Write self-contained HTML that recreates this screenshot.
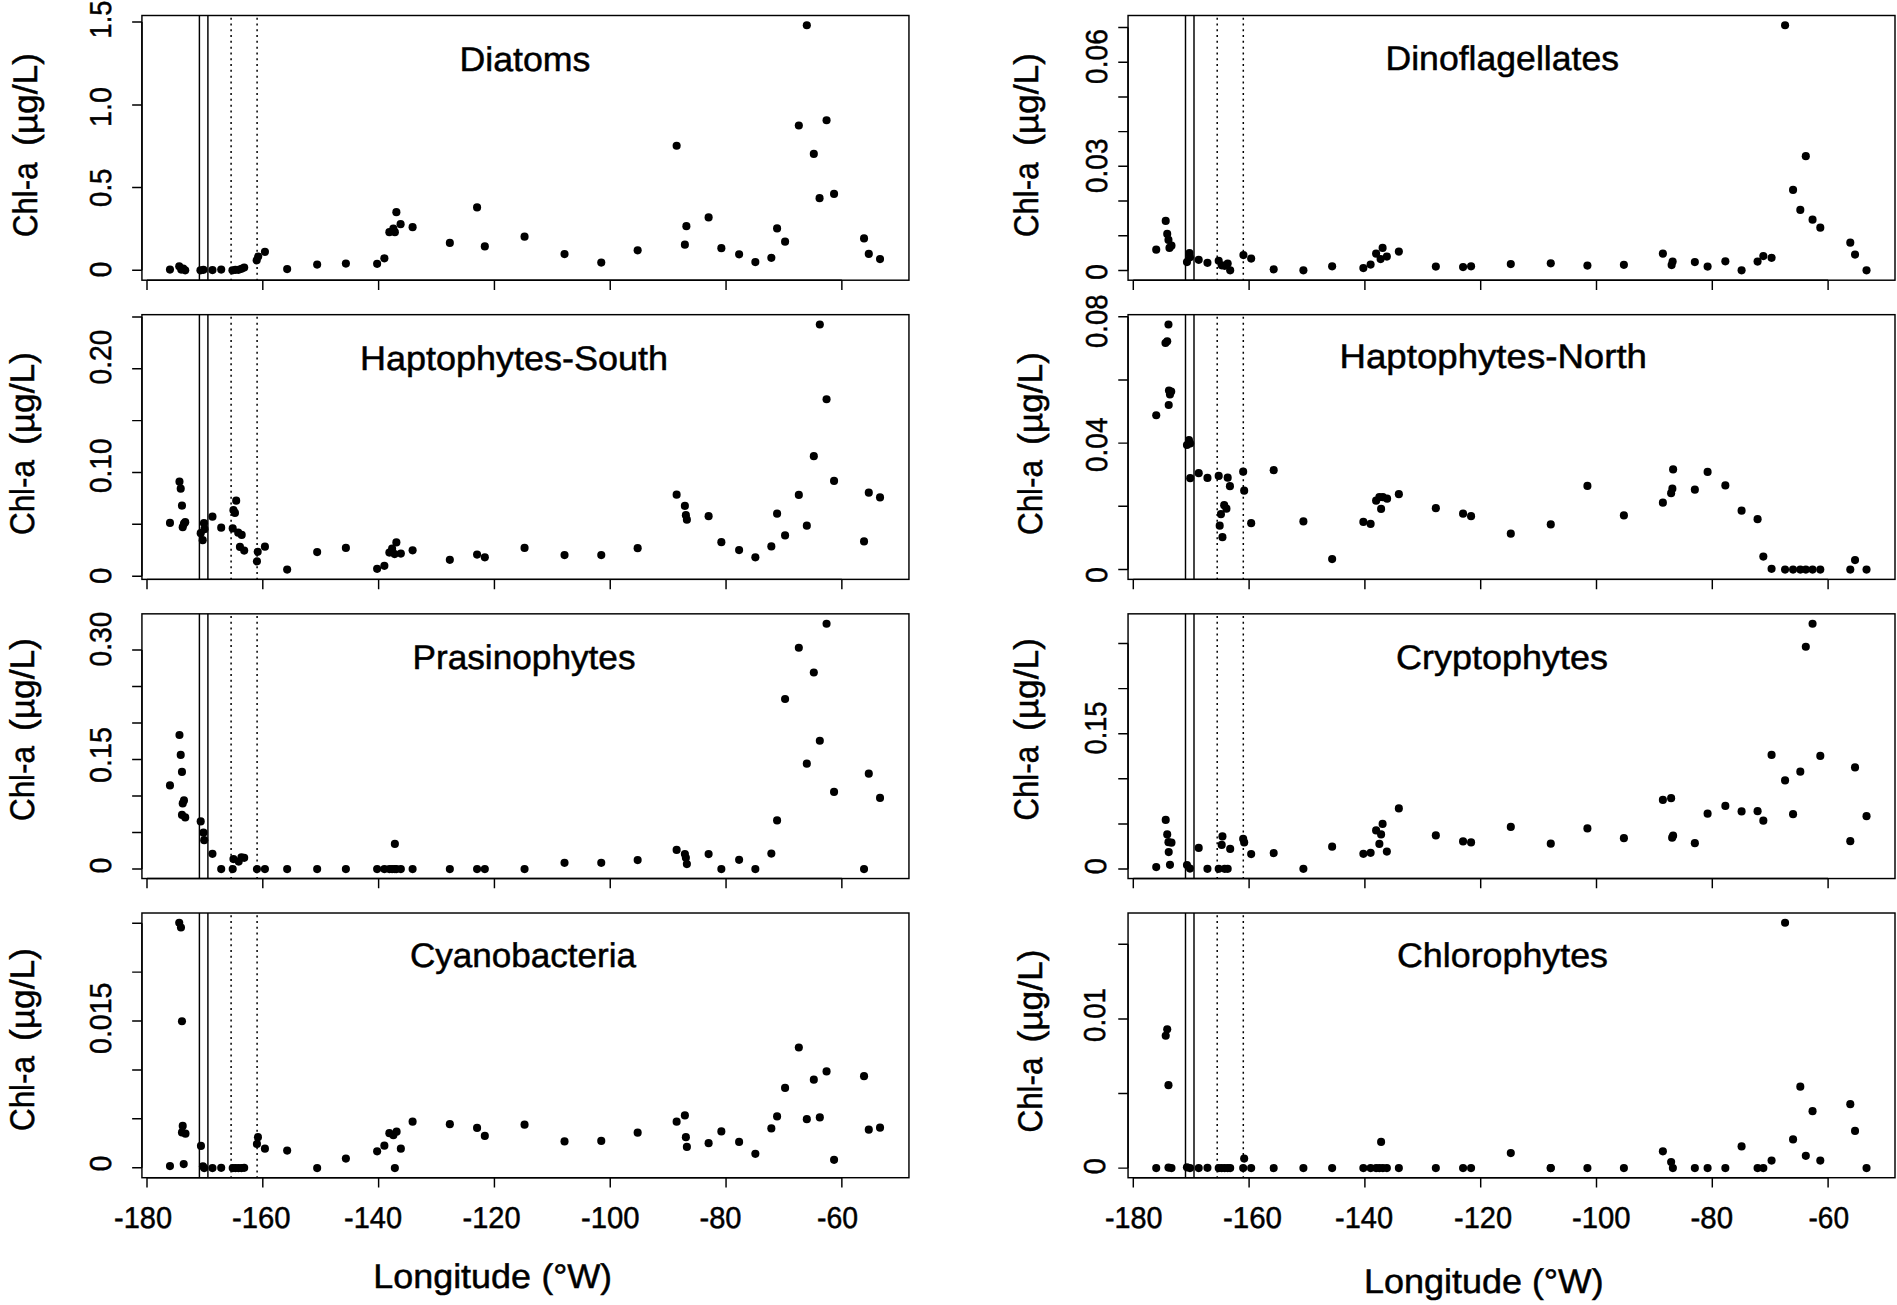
<!DOCTYPE html>
<html lang="en"><head><meta charset="utf-8"><title>Chl-a by longitude</title>
<style>html,body{margin:0;padding:0;background:#fff}body{width:1897px;height:1305px;overflow:hidden}svg{display:block}text{font-family:"Liberation Sans",sans-serif;fill:#000;stroke:#000;stroke-width:.5px;text-rendering:geometricPrecision}.b{fill:none;stroke:#000;stroke-width:1.45}.l{stroke:#000;stroke-width:1.45;fill:none}.d{stroke:#000;stroke-width:1.5;stroke-dasharray:2 3.8;fill:none}.p circle{fill:#000}</style></head><body>
<svg width="1897" height="1305" viewBox="0 0 1897 1305">
<rect width="1897" height="1305" fill="#fff"/>
<g>
<rect class="b" x="141.93" y="15.5" width="767.02" height="264.7"/>
<path class="l" d="M147 280.2v9.8M262.81 280.2v9.8M378.62 280.2v9.8M494.43 280.2v9.8M610.24 280.2v9.8M726.05 280.2v9.8M841.86 280.2v9.8M141.93 21.9h-9.8M141.93 104.9h-9.8M141.93 187.5h-9.8M141.93 270.2h-9.8M199.4 15.5V280.2M207.9 15.5V280.2M147 280.2H841.86M141.93 21.9V270.2"/>
<path class="d" d="M231.1 17.67V280.2M257.1 17.67V280.2"/>
<g class="p"><circle cx="169.98" cy="269.62" r="4.05"/><circle cx="179.23" cy="266.37" r="4.05"/><circle cx="181.22" cy="269.62" r="4.05"/><circle cx="183.22" cy="268.62" r="4.05"/><circle cx="185.22" cy="270.36" r="4.05"/><circle cx="200.46" cy="270.36" r="4.05"/><circle cx="203.46" cy="269.87" r="4.05"/><circle cx="212.46" cy="270.11" r="4.05"/><circle cx="221.2" cy="269.62" r="4.05"/><circle cx="232.45" cy="270.36" r="4.05"/><circle cx="235.45" cy="269.87" r="4.05"/><circle cx="238.45" cy="269.87" r="4.05"/><circle cx="241.44" cy="268.87" r="4.05"/><circle cx="244.19" cy="267.62" r="4.05"/><circle cx="256.69" cy="260.37" r="4.05"/><circle cx="258.19" cy="256.62" r="4.05"/><circle cx="264.93" cy="251.87" r="4.05"/><circle cx="287.17" cy="269.12" r="4.05"/><circle cx="317.16" cy="264.62" r="4.05"/><circle cx="345.89" cy="263.62" r="4.05"/><circle cx="377.13" cy="263.87" r="4.05"/><circle cx="384.37" cy="258.37" r="4.05"/><circle cx="389.37" cy="232.13" r="4.05"/><circle cx="393.37" cy="228.64" r="4.05"/><circle cx="394.87" cy="232.13" r="4.05"/><circle cx="396.37" cy="212.14" r="4.05"/><circle cx="400.61" cy="224.14" r="4.05"/><circle cx="412.61" cy="227.14" r="4.05"/><circle cx="449.84" cy="242.88" r="4.05"/><circle cx="477.08" cy="207.4" r="4.05"/><circle cx="484.82" cy="246.38" r="4.05"/><circle cx="524.55" cy="236.63" r="4.05"/><circle cx="564.53" cy="254.12" r="4.05"/><circle cx="601.26" cy="262.62" r="4.05"/><circle cx="637.66" cy="250.37" r="4.05"/><circle cx="676.64" cy="145.68" r="4.05"/><circle cx="686.38" cy="226.14" r="4.05"/><circle cx="684.88" cy="244.63" r="4.05"/><circle cx="708.62" cy="217.39" r="4.05"/><circle cx="721.36" cy="248.13" r="4.05"/><circle cx="739.11" cy="254.37" r="4.05"/><circle cx="755.35" cy="262.12" r="4.05"/><circle cx="771.34" cy="257.87" r="4.05"/><circle cx="777.09" cy="228.39" r="4.05"/><circle cx="785.08" cy="241.63" r="4.05"/><circle cx="798.83" cy="125.44" r="4.05"/><circle cx="806.82" cy="25.24" r="4.05"/><circle cx="813.82" cy="153.92" r="4.05"/><circle cx="819.57" cy="198.15" r="4.05"/><circle cx="826.56" cy="120.19" r="4.05"/><circle cx="834.06" cy="193.9" r="4.05"/><circle cx="864.04" cy="238.38" r="4.05"/><circle cx="868.79" cy="253.87" r="4.05"/><circle cx="880.03" cy="259.12" r="4.05"/></g>
</g>
<g>
<rect class="b" x="1128.05" y="15.5" width="766.95" height="264.7"/>
<path class="l" d="M1133.3 280.2v9.8M1249.1 280.2v9.8M1364.9 280.2v9.8M1480.7 280.2v9.8M1596.5 280.2v9.8M1712.3 280.2v9.8M1828.1 280.2v9.8M1128.05 27.5h-9.8M1128.05 62.2h-9.8M1128.05 96.9h-9.8M1128.05 131.6h-9.8M1128.05 166.3h-9.8M1128.05 201h-9.8M1128.05 235.7h-9.8M1128.05 270.4h-9.8M1185.5 15.5V280.2M1194 15.5V280.2M1133.3 280.2H1828.1M1128.05 27.5V270.4"/>
<path class="d" d="M1217.2 17.67V280.2M1243.3 17.67V280.2"/>
<g class="p"><circle cx="1156.23" cy="249.63" r="4.05"/><circle cx="1165.72" cy="220.89" r="4.05"/><circle cx="1167.22" cy="233.88" r="4.05"/><circle cx="1168.47" cy="239.88" r="4.05"/><circle cx="1169.47" cy="247.88" r="4.05"/><circle cx="1171.47" cy="245.63" r="4.05"/><circle cx="1186.96" cy="262.12" r="4.05"/><circle cx="1189.46" cy="253.12" r="4.05"/><circle cx="1189.96" cy="257.37" r="4.05"/><circle cx="1198.71" cy="259.87" r="4.05"/><circle cx="1207.45" cy="262.87" r="4.05"/><circle cx="1218.7" cy="260.87" r="4.05"/><circle cx="1221.69" cy="265.37" r="4.05"/><circle cx="1224.69" cy="265.87" r="4.05"/><circle cx="1227.69" cy="263.62" r="4.05"/><circle cx="1230.19" cy="270.36" r="4.05"/><circle cx="1243.43" cy="255.12" r="4.05"/><circle cx="1251.18" cy="258.62" r="4.05"/><circle cx="1273.67" cy="269.37" r="4.05"/><circle cx="1303.4" cy="270.36" r="4.05"/><circle cx="1332.14" cy="266.37" r="4.05"/><circle cx="1363.37" cy="268.12" r="4.05"/><circle cx="1370.62" cy="264.62" r="4.05"/><circle cx="1376.12" cy="253.62" r="4.05"/><circle cx="1380.61" cy="259.12" r="4.05"/><circle cx="1382.61" cy="247.88" r="4.05"/><circle cx="1386.86" cy="256.62" r="4.05"/><circle cx="1398.86" cy="251.62" r="4.05"/><circle cx="1435.84" cy="266.62" r="4.05"/><circle cx="1463.07" cy="267.12" r="4.05"/><circle cx="1471.07" cy="266.37" r="4.05"/><circle cx="1510.8" cy="264.12" r="4.05"/><circle cx="1550.78" cy="263.37" r="4.05"/><circle cx="1587.42" cy="265.62" r="4.05"/><circle cx="1623.9" cy="264.87" r="4.05"/><circle cx="1662.88" cy="253.62" r="4.05"/><circle cx="1672.63" cy="261.62" r="4.05"/><circle cx="1671.63" cy="265.12" r="4.05"/><circle cx="1694.86" cy="262.12" r="4.05"/><circle cx="1707.61" cy="266.62" r="4.05"/><circle cx="1725.35" cy="261.37" r="4.05"/><circle cx="1741.59" cy="270.36" r="4.05"/><circle cx="1757.58" cy="261.62" r="4.05"/><circle cx="1763.33" cy="256.12" r="4.05"/><circle cx="1771.58" cy="257.87" r="4.05"/><circle cx="1785.07" cy="25.24" r="4.05"/><circle cx="1793.06" cy="189.91" r="4.05"/><circle cx="1800.31" cy="209.9" r="4.05"/><circle cx="1805.81" cy="156.17" r="4.05"/><circle cx="1812.56" cy="219.64" r="4.05"/><circle cx="1820.3" cy="227.64" r="4.05"/><circle cx="1850.29" cy="242.63" r="4.05"/><circle cx="1855.03" cy="254.62" r="4.05"/><circle cx="1866.53" cy="270.36" r="4.05"/></g>
</g>
<g>
<rect class="b" x="141.93" y="314.67" width="767.02" height="264.7"/>
<path class="l" d="M147 579.37v9.8M262.81 579.37v9.8M378.62 579.37v9.8M494.43 579.37v9.8M610.24 579.37v9.8M726.05 579.37v9.8M841.86 579.37v9.8M141.93 316.9h-9.8M141.93 368.76h-9.8M141.93 420.62h-9.8M141.93 472.48h-9.8M141.93 524.34h-9.8M141.93 576.2h-9.8M199.4 314.67V579.37M207.9 314.67V579.37M147 579.37H841.86M141.93 316.9V576.2"/>
<path class="d" d="M231.1 316.84V579.37M257.1 316.84V579.37"/>
<g class="p"><circle cx="169.98" cy="522.89" r="4.05"/><circle cx="179.48" cy="481.66" r="4.05"/><circle cx="180.72" cy="488.66" r="4.05"/><circle cx="181.97" cy="505.65" r="4.05"/><circle cx="182.72" cy="527.14" r="4.05"/><circle cx="183.97" cy="523.64" r="4.05"/><circle cx="185.22" cy="522.14" r="4.05"/><circle cx="200.71" cy="533.13" r="4.05"/><circle cx="202.71" cy="540.13" r="4.05"/><circle cx="203.96" cy="523.14" r="4.05"/><circle cx="204.46" cy="529.14" r="4.05"/><circle cx="212.46" cy="516.64" r="4.05"/><circle cx="221.2" cy="527.64" r="4.05"/><circle cx="232.7" cy="528.39" r="4.05"/><circle cx="233.45" cy="510.14" r="4.05"/><circle cx="234.95" cy="512.89" r="4.05"/><circle cx="236.2" cy="500.65" r="4.05"/><circle cx="238.2" cy="532.63" r="4.05"/><circle cx="241.69" cy="534.88" r="4.05"/><circle cx="239.95" cy="546.88" r="4.05"/><circle cx="244.19" cy="550.62" r="4.05"/><circle cx="256.94" cy="561.37" r="4.05"/><circle cx="257.69" cy="551.87" r="4.05"/><circle cx="264.93" cy="546.63" r="4.05"/><circle cx="287.17" cy="569.62" r="4.05"/><circle cx="317.16" cy="552.12" r="4.05"/><circle cx="345.89" cy="547.88" r="4.05"/><circle cx="377.13" cy="568.87" r="4.05"/><circle cx="384.37" cy="565.87" r="4.05"/><circle cx="389.37" cy="552.62" r="4.05"/><circle cx="392.12" cy="548.63" r="4.05"/><circle cx="394.62" cy="554.12" r="4.05"/><circle cx="396.37" cy="542.38" r="4.05"/><circle cx="400.86" cy="553.62" r="4.05"/><circle cx="412.61" cy="550.37" r="4.05"/><circle cx="449.84" cy="559.87" r="4.05"/><circle cx="477.08" cy="554.62" r="4.05"/><circle cx="484.82" cy="557.37" r="4.05"/><circle cx="524.55" cy="547.88" r="4.05"/><circle cx="564.53" cy="555.12" r="4.05"/><circle cx="601.26" cy="555.12" r="4.05"/><circle cx="637.66" cy="548.13" r="4.05"/><circle cx="676.64" cy="494.65" r="4.05"/><circle cx="684.88" cy="505.9" r="4.05"/><circle cx="685.88" cy="515.14" r="4.05"/><circle cx="686.88" cy="519.64" r="4.05"/><circle cx="708.62" cy="516.14" r="4.05"/><circle cx="721.36" cy="542.13" r="4.05"/><circle cx="739.11" cy="550.12" r="4.05"/><circle cx="755.35" cy="557.37" r="4.05"/><circle cx="771.34" cy="546.38" r="4.05"/><circle cx="777.09" cy="513.64" r="4.05"/><circle cx="785.08" cy="535.38" r="4.05"/><circle cx="798.83" cy="494.9" r="4.05"/><circle cx="806.82" cy="525.64" r="4.05"/><circle cx="813.82" cy="456.17" r="4.05"/><circle cx="819.82" cy="324.49" r="4.05"/><circle cx="826.56" cy="399.2" r="4.05"/><circle cx="834.06" cy="480.91" r="4.05"/><circle cx="864.04" cy="541.38" r="4.05"/><circle cx="868.79" cy="492.65" r="4.05"/><circle cx="880.03" cy="497.4" r="4.05"/></g>
</g>
<g>
<rect class="b" x="1128.05" y="314.67" width="766.95" height="264.7"/>
<path class="l" d="M1133.3 579.37v9.8M1249.1 579.37v9.8M1364.9 579.37v9.8M1480.7 579.37v9.8M1596.5 579.37v9.8M1712.3 579.37v9.8M1828.1 579.37v9.8M1128.05 316.7h-9.8M1128.05 379.9h-9.8M1128.05 443.1h-9.8M1128.05 506.3h-9.8M1128.05 569.5h-9.8M1185.5 314.67V579.37M1194 314.67V579.37M1133.3 579.37H1828.1M1128.05 316.7V569.5"/>
<path class="d" d="M1217.2 316.84V579.37M1243.3 316.84V579.37"/>
<g class="p"><circle cx="1156.23" cy="415.19" r="4.05"/><circle cx="1168.47" cy="324.49" r="4.05"/><circle cx="1165.47" cy="342.98" r="4.05"/><circle cx="1167.22" cy="341.23" r="4.05"/><circle cx="1168.97" cy="390.45" r="4.05"/><circle cx="1171.22" cy="391.45" r="4.05"/><circle cx="1169.97" cy="394.45" r="4.05"/><circle cx="1168.72" cy="404.95" r="4.05"/><circle cx="1186.96" cy="444.93" r="4.05"/><circle cx="1188.96" cy="439.93" r="4.05"/><circle cx="1190.21" cy="443.43" r="4.05"/><circle cx="1190.21" cy="478.16" r="4.05"/><circle cx="1198.71" cy="473.16" r="4.05"/><circle cx="1207.45" cy="477.91" r="4.05"/><circle cx="1218.7" cy="475.91" r="4.05"/><circle cx="1227.69" cy="477.66" r="4.05"/><circle cx="1229.94" cy="486.16" r="4.05"/><circle cx="1224.19" cy="505.15" r="4.05"/><circle cx="1226.44" cy="508.65" r="4.05"/><circle cx="1220.94" cy="514.14" r="4.05"/><circle cx="1219.7" cy="525.64" r="4.05"/><circle cx="1222.44" cy="537.13" r="4.05"/><circle cx="1243.18" cy="471.66" r="4.05"/><circle cx="1244.18" cy="490.65" r="4.05"/><circle cx="1251.18" cy="523.14" r="4.05"/><circle cx="1273.67" cy="470.16" r="4.05"/><circle cx="1303.4" cy="521.39" r="4.05"/><circle cx="1332.14" cy="559.12" r="4.05"/><circle cx="1363.37" cy="521.89" r="4.05"/><circle cx="1370.62" cy="523.89" r="4.05"/><circle cx="1376.12" cy="500.65" r="4.05"/><circle cx="1379.37" cy="497.15" r="4.05"/><circle cx="1382.86" cy="497.15" r="4.05"/><circle cx="1387.11" cy="498.65" r="4.05"/><circle cx="1381.11" cy="508.9" r="4.05"/><circle cx="1398.86" cy="494.15" r="4.05"/><circle cx="1435.84" cy="508.15" r="4.05"/><circle cx="1463.07" cy="513.64" r="4.05"/><circle cx="1471.07" cy="516.14" r="4.05"/><circle cx="1510.8" cy="533.63" r="4.05"/><circle cx="1550.78" cy="524.39" r="4.05"/><circle cx="1587.42" cy="485.91" r="4.05"/><circle cx="1623.9" cy="515.39" r="4.05"/><circle cx="1662.88" cy="502.65" r="4.05"/><circle cx="1671.13" cy="493.15" r="4.05"/><circle cx="1672.38" cy="488.66" r="4.05"/><circle cx="1673.12" cy="469.42" r="4.05"/><circle cx="1694.86" cy="489.66" r="4.05"/><circle cx="1707.61" cy="471.91" r="4.05"/><circle cx="1725.35" cy="485.41" r="4.05"/><circle cx="1741.59" cy="510.64" r="4.05"/><circle cx="1757.58" cy="519.14" r="4.05"/><circle cx="1763.33" cy="556.62" r="4.05"/><circle cx="1771.58" cy="568.87" r="4.05"/><circle cx="1785.07" cy="569.62" r="4.05"/><circle cx="1793.06" cy="569.62" r="4.05"/><circle cx="1800.31" cy="569.62" r="4.05"/><circle cx="1805.81" cy="569.62" r="4.05"/><circle cx="1812.56" cy="569.62" r="4.05"/><circle cx="1820.3" cy="569.62" r="4.05"/><circle cx="1850.29" cy="569.62" r="4.05"/><circle cx="1855.03" cy="560.12" r="4.05"/><circle cx="1866.53" cy="569.62" r="4.05"/></g>
</g>
<g>
<rect class="b" x="141.93" y="613.84" width="767.02" height="264.7"/>
<path class="l" d="M147 878.54v9.8M262.81 878.54v9.8M378.62 878.54v9.8M494.43 878.54v9.8M610.24 878.54v9.8M726.05 878.54v9.8M841.86 878.54v9.8M141.93 650h-9.8M141.93 686.5h-9.8M141.93 723h-9.8M141.93 759.5h-9.8M141.93 796h-9.8M141.93 832.5h-9.8M141.93 869h-9.8M199.4 613.84V878.54M207.9 613.84V878.54M147 878.54H841.86M141.93 650V869"/>
<path class="d" d="M231.1 616.01V878.54M257.1 616.01V878.54"/>
<g class="p"><circle cx="169.98" cy="785.41" r="4.05"/><circle cx="179.48" cy="734.93" r="4.05"/><circle cx="180.72" cy="754.92" r="4.05"/><circle cx="181.97" cy="771.91" r="4.05"/><circle cx="183.97" cy="800.4" r="4.05"/><circle cx="182.72" cy="803.4" r="4.05"/><circle cx="181.97" cy="814.89" r="4.05"/><circle cx="185.22" cy="817.39" r="4.05"/><circle cx="200.71" cy="821.39" r="4.05"/><circle cx="203.46" cy="832.63" r="4.05"/><circle cx="204.21" cy="840.13" r="4.05"/><circle cx="212.46" cy="853.87" r="4.05"/><circle cx="221.2" cy="869.12" r="4.05"/><circle cx="232.7" cy="869.12" r="4.05"/><circle cx="233.45" cy="859.12" r="4.05"/><circle cx="238.7" cy="861.62" r="4.05"/><circle cx="241.44" cy="857.37" r="4.05"/><circle cx="244.19" cy="857.87" r="4.05"/><circle cx="256.94" cy="869.12" r="4.05"/><circle cx="264.93" cy="869.12" r="4.05"/><circle cx="287.17" cy="869.12" r="4.05"/><circle cx="317.16" cy="869.12" r="4.05"/><circle cx="345.89" cy="869.12" r="4.05"/><circle cx="377.13" cy="869.12" r="4.05"/><circle cx="384.37" cy="869.12" r="4.05"/><circle cx="389.37" cy="869.12" r="4.05"/><circle cx="392.12" cy="869.12" r="4.05"/><circle cx="394.87" cy="869.12" r="4.05"/><circle cx="396.37" cy="869.12" r="4.05"/><circle cx="400.86" cy="869.12" r="4.05"/><circle cx="394.87" cy="843.88" r="4.05"/><circle cx="412.61" cy="869.12" r="4.05"/><circle cx="449.84" cy="869.12" r="4.05"/><circle cx="477.08" cy="869.12" r="4.05"/><circle cx="484.82" cy="869.12" r="4.05"/><circle cx="524.55" cy="869.12" r="4.05"/><circle cx="564.53" cy="862.87" r="4.05"/><circle cx="601.26" cy="862.87" r="4.05"/><circle cx="637.66" cy="860.12" r="4.05"/><circle cx="676.64" cy="849.88" r="4.05"/><circle cx="684.88" cy="854.12" r="4.05"/><circle cx="685.88" cy="857.87" r="4.05"/><circle cx="686.88" cy="864.12" r="4.05"/><circle cx="708.62" cy="854.12" r="4.05"/><circle cx="721.36" cy="869.12" r="4.05"/><circle cx="739.11" cy="859.87" r="4.05"/><circle cx="755.35" cy="869.12" r="4.05"/><circle cx="771.34" cy="853.62" r="4.05"/><circle cx="777.09" cy="820.39" r="4.05"/><circle cx="785.08" cy="698.95" r="4.05"/><circle cx="798.83" cy="647.73" r="4.05"/><circle cx="806.82" cy="763.67" r="4.05"/><circle cx="813.82" cy="672.46" r="4.05"/><circle cx="819.82" cy="740.68" r="4.05"/><circle cx="826.56" cy="623.74" r="4.05"/><circle cx="834.06" cy="791.9" r="4.05"/><circle cx="864.04" cy="869.12" r="4.05"/><circle cx="868.79" cy="773.66" r="4.05"/><circle cx="880.03" cy="797.9" r="4.05"/></g>
</g>
<g>
<rect class="b" x="1128.05" y="613.84" width="766.95" height="264.7"/>
<path class="l" d="M1133.3 878.54v9.8M1249.1 878.54v9.8M1364.9 878.54v9.8M1480.7 878.54v9.8M1596.5 878.54v9.8M1712.3 878.54v9.8M1828.1 878.54v9.8M1128.05 643.5h-9.8M1128.05 688.6h-9.8M1128.05 733.7h-9.8M1128.05 778.8h-9.8M1128.05 823.9h-9.8M1128.05 869h-9.8M1185.5 613.84V878.54M1194 613.84V878.54M1133.3 878.54H1828.1M1128.05 643.5V869"/>
<path class="d" d="M1217.2 616.01V878.54M1243.3 616.01V878.54"/>
<g class="p"><circle cx="1156.23" cy="867.12" r="4.05"/><circle cx="1165.72" cy="819.89" r="4.05"/><circle cx="1167.22" cy="834.38" r="4.05"/><circle cx="1168.47" cy="842.13" r="4.05"/><circle cx="1171.47" cy="842.63" r="4.05"/><circle cx="1168.72" cy="852.12" r="4.05"/><circle cx="1169.97" cy="864.87" r="4.05"/><circle cx="1186.96" cy="865.12" r="4.05"/><circle cx="1189.96" cy="868.62" r="4.05"/><circle cx="1198.71" cy="847.88" r="4.05"/><circle cx="1207.45" cy="868.87" r="4.05"/><circle cx="1218.7" cy="868.87" r="4.05"/><circle cx="1221.69" cy="844.88" r="4.05"/><circle cx="1222.44" cy="836.38" r="4.05"/><circle cx="1224.69" cy="868.87" r="4.05"/><circle cx="1227.69" cy="868.87" r="4.05"/><circle cx="1230.19" cy="848.88" r="4.05"/><circle cx="1243.18" cy="838.88" r="4.05"/><circle cx="1244.18" cy="842.38" r="4.05"/><circle cx="1251.18" cy="854.12" r="4.05"/><circle cx="1273.67" cy="853.12" r="4.05"/><circle cx="1303.4" cy="868.87" r="4.05"/><circle cx="1332.14" cy="846.63" r="4.05"/><circle cx="1363.37" cy="853.87" r="4.05"/><circle cx="1370.62" cy="852.87" r="4.05"/><circle cx="1376.12" cy="830.38" r="4.05"/><circle cx="1381.11" cy="834.38" r="4.05"/><circle cx="1382.61" cy="823.89" r="4.05"/><circle cx="1379.37" cy="843.88" r="4.05"/><circle cx="1386.86" cy="851.62" r="4.05"/><circle cx="1398.86" cy="808.4" r="4.05"/><circle cx="1435.84" cy="835.38" r="4.05"/><circle cx="1463.07" cy="841.38" r="4.05"/><circle cx="1471.07" cy="842.38" r="4.05"/><circle cx="1510.8" cy="826.89" r="4.05"/><circle cx="1550.78" cy="843.63" r="4.05"/><circle cx="1587.42" cy="828.39" r="4.05"/><circle cx="1623.9" cy="838.13" r="4.05"/><circle cx="1662.88" cy="799.9" r="4.05"/><circle cx="1671.13" cy="798.15" r="4.05"/><circle cx="1673.12" cy="835.63" r="4.05"/><circle cx="1672.13" cy="837.63" r="4.05"/><circle cx="1694.86" cy="843.13" r="4.05"/><circle cx="1707.61" cy="813.64" r="4.05"/><circle cx="1725.35" cy="805.9" r="4.05"/><circle cx="1741.59" cy="811.39" r="4.05"/><circle cx="1757.58" cy="811.14" r="4.05"/><circle cx="1763.33" cy="820.64" r="4.05"/><circle cx="1771.58" cy="754.92" r="4.05"/><circle cx="1785.07" cy="780.41" r="4.05"/><circle cx="1793.06" cy="814.14" r="4.05"/><circle cx="1800.31" cy="771.66" r="4.05"/><circle cx="1805.81" cy="646.73" r="4.05"/><circle cx="1812.56" cy="623.74" r="4.05"/><circle cx="1820.3" cy="755.92" r="4.05"/><circle cx="1850.29" cy="841.13" r="4.05"/><circle cx="1855.03" cy="767.42" r="4.05"/><circle cx="1866.53" cy="816.14" r="4.05"/></g>
</g>
<g>
<rect class="b" x="141.93" y="913.01" width="767.02" height="264.7"/>
<path class="l" d="M147 1177.71v9.8M262.81 1177.71v9.8M378.62 1177.71v9.8M494.43 1177.71v9.8M610.24 1177.71v9.8M726.05 1177.71v9.8M841.86 1177.71v9.8M141.93 923.2h-9.8M141.93 972.1h-9.8M141.93 1021h-9.8M141.93 1069.9h-9.8M141.93 1118.8h-9.8M141.93 1167.7h-9.8M199.4 913.01V1177.71M207.9 913.01V1177.71M147 1177.71H841.86M141.93 923.2V1167.7"/>
<path class="d" d="M231.1 915.18V1177.71M257.1 915.18V1177.71"/>
<g class="p"><circle cx="169.98" cy="1166.12" r="4.05"/><circle cx="179.23" cy="922.74" r="4.05"/><circle cx="180.97" cy="927.49" r="4.05"/><circle cx="181.97" cy="1021.19" r="4.05"/><circle cx="182.72" cy="1125.89" r="4.05"/><circle cx="181.97" cy="1132.38" r="4.05"/><circle cx="185.47" cy="1133.63" r="4.05"/><circle cx="183.72" cy="1164.12" r="4.05"/><circle cx="200.96" cy="1145.88" r="4.05"/><circle cx="202.96" cy="1166.37" r="4.05"/><circle cx="204.21" cy="1168.12" r="4.05"/><circle cx="212.46" cy="1168.12" r="4.05"/><circle cx="221.2" cy="1167.87" r="4.05"/><circle cx="232.7" cy="1168.12" r="4.05"/><circle cx="235.45" cy="1168.12" r="4.05"/><circle cx="238.45" cy="1168.12" r="4.05"/><circle cx="241.44" cy="1168.12" r="4.05"/><circle cx="244.19" cy="1167.87" r="4.05"/><circle cx="256.94" cy="1143.88" r="4.05"/><circle cx="257.94" cy="1137.13" r="4.05"/><circle cx="264.93" cy="1148.63" r="4.05"/><circle cx="287.17" cy="1150.62" r="4.05"/><circle cx="317.16" cy="1168.12" r="4.05"/><circle cx="345.89" cy="1158.62" r="4.05"/><circle cx="377.13" cy="1151.37" r="4.05"/><circle cx="384.37" cy="1145.63" r="4.05"/><circle cx="389.37" cy="1133.13" r="4.05"/><circle cx="393.37" cy="1135.13" r="4.05"/><circle cx="396.62" cy="1131.63" r="4.05"/><circle cx="400.86" cy="1148.63" r="4.05"/><circle cx="394.87" cy="1168.12" r="4.05"/><circle cx="412.61" cy="1121.64" r="4.05"/><circle cx="449.84" cy="1124.14" r="4.05"/><circle cx="477.08" cy="1127.89" r="4.05"/><circle cx="484.82" cy="1135.88" r="4.05"/><circle cx="524.55" cy="1124.64" r="4.05"/><circle cx="564.53" cy="1141.38" r="4.05"/><circle cx="601.26" cy="1140.88" r="4.05"/><circle cx="637.66" cy="1132.63" r="4.05"/><circle cx="676.64" cy="1121.64" r="4.05"/><circle cx="684.88" cy="1115.39" r="4.05"/><circle cx="685.88" cy="1137.13" r="4.05"/><circle cx="686.88" cy="1146.88" r="4.05"/><circle cx="708.62" cy="1143.13" r="4.05"/><circle cx="721.36" cy="1131.38" r="4.05"/><circle cx="739.11" cy="1141.88" r="4.05"/><circle cx="755.35" cy="1153.87" r="4.05"/><circle cx="771.34" cy="1128.39" r="4.05"/><circle cx="777.09" cy="1116.39" r="4.05"/><circle cx="785.08" cy="1087.91" r="4.05"/><circle cx="798.83" cy="1047.43" r="4.05"/><circle cx="806.82" cy="1119.14" r="4.05"/><circle cx="813.82" cy="1079.66" r="4.05"/><circle cx="819.82" cy="1117.39" r="4.05"/><circle cx="826.56" cy="1071.41" r="4.05"/><circle cx="834.06" cy="1159.87" r="4.05"/><circle cx="864.04" cy="1076.16" r="4.05"/><circle cx="868.79" cy="1129.64" r="4.05"/><circle cx="880.03" cy="1127.64" r="4.05"/></g>
</g>
<g>
<rect class="b" x="1128.05" y="913.01" width="766.95" height="264.7"/>
<path class="l" d="M1133.3 1177.71v9.8M1249.1 1177.71v9.8M1364.9 1177.71v9.8M1480.7 1177.71v9.8M1596.5 1177.71v9.8M1712.3 1177.71v9.8M1828.1 1177.71v9.8M1128.05 944.2h-9.8M1128.05 1019h-9.8M1128.05 1093.4h-9.8M1128.05 1168.1h-9.8M1185.5 913.01V1177.71M1194 913.01V1177.71M1133.3 1177.71H1828.1M1128.05 944.2V1168.1"/>
<path class="d" d="M1217.2 915.18V1177.71M1243.3 915.18V1177.71"/>
<g class="p"><circle cx="1156.23" cy="1168.12" r="4.05"/><circle cx="1165.72" cy="1035.68" r="4.05"/><circle cx="1167.22" cy="1029.19" r="4.05"/><circle cx="1168.47" cy="1085.16" r="4.05"/><circle cx="1168.47" cy="1167.62" r="4.05"/><circle cx="1171.47" cy="1168.12" r="4.05"/><circle cx="1186.96" cy="1167.37" r="4.05"/><circle cx="1189.96" cy="1168.12" r="4.05"/><circle cx="1198.71" cy="1168.12" r="4.05"/><circle cx="1207.45" cy="1167.87" r="4.05"/><circle cx="1218.7" cy="1168.12" r="4.05"/><circle cx="1221.69" cy="1168.12" r="4.05"/><circle cx="1224.69" cy="1168.12" r="4.05"/><circle cx="1227.69" cy="1168.12" r="4.05"/><circle cx="1230.19" cy="1168.12" r="4.05"/><circle cx="1243.18" cy="1168.12" r="4.05"/><circle cx="1244.18" cy="1158.62" r="4.05"/><circle cx="1251.18" cy="1168.12" r="4.05"/><circle cx="1273.67" cy="1168.12" r="4.05"/><circle cx="1303.4" cy="1168.12" r="4.05"/><circle cx="1332.14" cy="1168.12" r="4.05"/><circle cx="1363.37" cy="1168.12" r="4.05"/><circle cx="1370.62" cy="1168.12" r="4.05"/><circle cx="1376.12" cy="1168.12" r="4.05"/><circle cx="1379.37" cy="1168.12" r="4.05"/><circle cx="1382.86" cy="1168.12" r="4.05"/><circle cx="1386.86" cy="1168.12" r="4.05"/><circle cx="1381.11" cy="1141.88" r="4.05"/><circle cx="1398.86" cy="1168.12" r="4.05"/><circle cx="1435.84" cy="1168.12" r="4.05"/><circle cx="1463.07" cy="1168.12" r="4.05"/><circle cx="1471.07" cy="1168.12" r="4.05"/><circle cx="1510.8" cy="1153.12" r="4.05"/><circle cx="1550.78" cy="1168.12" r="4.05"/><circle cx="1550.69" cy="1168.12" r="4.05"/><circle cx="1587.42" cy="1168.12" r="4.05"/><circle cx="1623.9" cy="1168.12" r="4.05"/><circle cx="1662.88" cy="1151.37" r="4.05"/><circle cx="1671.13" cy="1162.12" r="4.05"/><circle cx="1672.88" cy="1168.12" r="4.05"/><circle cx="1694.86" cy="1168.12" r="4.05"/><circle cx="1707.61" cy="1168.12" r="4.05"/><circle cx="1725.35" cy="1168.12" r="4.05"/><circle cx="1741.59" cy="1146.38" r="4.05"/><circle cx="1757.58" cy="1168.12" r="4.05"/><circle cx="1763.33" cy="1168.12" r="4.05"/><circle cx="1771.58" cy="1160.62" r="4.05"/><circle cx="1785.07" cy="922.74" r="4.05"/><circle cx="1793.06" cy="1139.38" r="4.05"/><circle cx="1800.31" cy="1086.66" r="4.05"/><circle cx="1805.81" cy="1155.87" r="4.05"/><circle cx="1812.56" cy="1111.14" r="4.05"/><circle cx="1820.3" cy="1160.62" r="4.05"/><circle cx="1850.29" cy="1104.15" r="4.05"/><circle cx="1855.03" cy="1130.88" r="4.05"/><circle cx="1866.53" cy="1168.12" r="4.05"/></g>
</g>
<text x="459.5" y="70.9" font-size="34.16" textLength="130.98" lengthAdjust="spacingAndGlyphs">Diatoms</text>
<text x="1385.5" y="69.7" font-size="34.16" textLength="233.49" lengthAdjust="spacingAndGlyphs">Dinoflagellates</text>
<text x="360" y="369.65" font-size="34.16" textLength="308" lengthAdjust="spacingAndGlyphs">Haptophytes-South</text>
<text x="1339.5" y="368.3" font-size="34.16" textLength="307.5" lengthAdjust="spacingAndGlyphs">Haptophytes-North</text>
<text x="412.5" y="668.6" font-size="34.16" textLength="223" lengthAdjust="spacingAndGlyphs">Prasinophytes</text>
<text x="1396" y="668.6" font-size="34.16" textLength="211.99" lengthAdjust="spacingAndGlyphs">Cryptophytes</text>
<text x="410" y="967.4" font-size="34.16" textLength="225.97" lengthAdjust="spacingAndGlyphs">Cyanobacteria</text>
<text x="1397" y="967.4" font-size="34.16" textLength="211" lengthAdjust="spacingAndGlyphs">Chlorophytes</text>
<text x="373.25" y="1288.35" font-size="34.16" textLength="157.75" lengthAdjust="spacingAndGlyphs">Longitude</text>
<text x="541.5" y="1288.35" font-size="34.16" textLength="70.49" lengthAdjust="spacingAndGlyphs">(°W)</text>
<text x="1364" y="1293.2" font-size="34.16" textLength="158" lengthAdjust="spacingAndGlyphs">Longitude</text>
<text x="1532" y="1293.2" font-size="34.16" textLength="71.49" lengthAdjust="spacingAndGlyphs">(°W)</text>
<text x="114" y="1227.5" font-size="30.23" textLength="58.01" lengthAdjust="spacingAndGlyphs">-180</text>
<text x="232" y="1227.5" font-size="30.23" textLength="58.51" lengthAdjust="spacingAndGlyphs">-160</text>
<text x="344" y="1227.5" font-size="30.23" textLength="58.01" lengthAdjust="spacingAndGlyphs">-140</text>
<text x="462.5" y="1227.5" font-size="30.23" textLength="58.01" lengthAdjust="spacingAndGlyphs">-120</text>
<text x="581" y="1227.5" font-size="30.23" textLength="58.51" lengthAdjust="spacingAndGlyphs">-100</text>
<text x="699.5" y="1227.5" font-size="30.23" textLength="42.01" lengthAdjust="spacingAndGlyphs">-80</text>
<text x="817" y="1227.5" font-size="30.23" textLength="41.01" lengthAdjust="spacingAndGlyphs">-60</text>
<text x="1105" y="1227.5" font-size="30.23" textLength="57.51" lengthAdjust="spacingAndGlyphs">-180</text>
<text x="1223" y="1227.5" font-size="30.23" textLength="59.01" lengthAdjust="spacingAndGlyphs">-160</text>
<text x="1335" y="1227.5" font-size="30.23" textLength="58.01" lengthAdjust="spacingAndGlyphs">-140</text>
<text x="1454" y="1227.5" font-size="30.23" textLength="58.01" lengthAdjust="spacingAndGlyphs">-120</text>
<text x="1572" y="1227.5" font-size="30.23" textLength="58.51" lengthAdjust="spacingAndGlyphs">-100</text>
<text x="1690.5" y="1227.5" font-size="30.23" textLength="42.51" lengthAdjust="spacingAndGlyphs">-80</text>
<text x="1808.5" y="1227.5" font-size="30.23" textLength="40.51" lengthAdjust="spacingAndGlyphs">-60</text>
<text transform="translate(111.3 38.5) rotate(-90)" font-size="30.23" textLength="38" lengthAdjust="spacingAndGlyphs">1.5</text>
<text transform="translate(111.3 127) rotate(-90)" font-size="30.23" textLength="40" lengthAdjust="spacingAndGlyphs">1.0</text>
<text transform="translate(111.3 207) rotate(-90)" font-size="30.23" textLength="38.5" lengthAdjust="spacingAndGlyphs">0.5</text>
<text transform="translate(111.3 277.5) rotate(-90)" font-size="30.23" textLength="16" lengthAdjust="spacingAndGlyphs">0</text>
<text transform="translate(111.3 384.5) rotate(-90)" font-size="30.23" textLength="55.01" lengthAdjust="spacingAndGlyphs">0.20</text>
<text transform="translate(111.3 493) rotate(-90)" font-size="30.23" textLength="54.51" lengthAdjust="spacingAndGlyphs">0.10</text>
<text transform="translate(111.3 584) rotate(-90)" font-size="30.23" textLength="16.5" lengthAdjust="spacingAndGlyphs">0</text>
<text transform="translate(111.3 666.5) rotate(-90)" font-size="30.23" textLength="55.01" lengthAdjust="spacingAndGlyphs">0.30</text>
<text transform="translate(111.3 783) rotate(-90)" font-size="30.23" textLength="56.01" lengthAdjust="spacingAndGlyphs">0.15</text>
<text transform="translate(111.3 873.5) rotate(-90)" font-size="30.23" textLength="16" lengthAdjust="spacingAndGlyphs">0</text>
<text transform="translate(111.3 1054) rotate(-90)" font-size="30.23" textLength="71.51" lengthAdjust="spacingAndGlyphs">0.015</text>
<text transform="translate(111.3 1171.5) rotate(-90)" font-size="30.23" textLength="16" lengthAdjust="spacingAndGlyphs">0</text>
<text transform="translate(1107 84) rotate(-90)" font-size="30.23" textLength="55.01" lengthAdjust="spacingAndGlyphs">0.06</text>
<text transform="translate(1107 193) rotate(-90)" font-size="30.23" textLength="54.51" lengthAdjust="spacingAndGlyphs">0.03</text>
<text transform="translate(1107 280) rotate(-90)" font-size="30.23" textLength="16" lengthAdjust="spacingAndGlyphs">0</text>
<text transform="translate(1107 348) rotate(-90)" font-size="30.23" textLength="53.51" lengthAdjust="spacingAndGlyphs">0.08</text>
<text transform="translate(1107 472) rotate(-90)" font-size="30.23" textLength="54.51" lengthAdjust="spacingAndGlyphs">0.04</text>
<text transform="translate(1107 583) rotate(-90)" font-size="30.23" textLength="16" lengthAdjust="spacingAndGlyphs">0</text>
<text transform="translate(1106.2 754.5) rotate(-90)" font-size="30.23" textLength="53.01" lengthAdjust="spacingAndGlyphs">0.15</text>
<text transform="translate(1106.2 874.5) rotate(-90)" font-size="30.23" textLength="16.5" lengthAdjust="spacingAndGlyphs">0</text>
<text transform="translate(1105.4 1042) rotate(-90)" font-size="30.23" textLength="54.01" lengthAdjust="spacingAndGlyphs">0.01</text>
<text transform="translate(1105.4 1174.5) rotate(-90)" font-size="30.23" textLength="16.5" lengthAdjust="spacingAndGlyphs">0</text>
<text transform="translate(37.3 237) rotate(-90)" font-size="34.16" textLength="74.46" lengthAdjust="spacingAndGlyphs">Chl-a</text>
<text transform="translate(37.3 146) rotate(-90)" font-size="34.16" textLength="93.01" lengthAdjust="spacingAndGlyphs">(µg/L)</text>
<text transform="translate(33.5 535) rotate(-90)" font-size="34.16" textLength="74.96" lengthAdjust="spacingAndGlyphs">Chl-a</text>
<text transform="translate(33.5 445) rotate(-90)" font-size="34.16" textLength="93.01" lengthAdjust="spacingAndGlyphs">(µg/L)</text>
<text transform="translate(33.5 821) rotate(-90)" font-size="34.16" textLength="74.96" lengthAdjust="spacingAndGlyphs">Chl-a</text>
<text transform="translate(33.5 731) rotate(-90)" font-size="34.16" textLength="93.01" lengthAdjust="spacingAndGlyphs">(µg/L)</text>
<text transform="translate(33.5 1131) rotate(-90)" font-size="34.16" textLength="74.96" lengthAdjust="spacingAndGlyphs">Chl-a</text>
<text transform="translate(33.5 1041) rotate(-90)" font-size="34.16" textLength="93.01" lengthAdjust="spacingAndGlyphs">(µg/L)</text>
<text transform="translate(1038.3 237) rotate(-90)" font-size="34.16" textLength="74.46" lengthAdjust="spacingAndGlyphs">Chl-a</text>
<text transform="translate(1038.3 146) rotate(-90)" font-size="34.16" textLength="93.01" lengthAdjust="spacingAndGlyphs">(µg/L)</text>
<text transform="translate(1041.5 535) rotate(-90)" font-size="34.16" textLength="74.96" lengthAdjust="spacingAndGlyphs">Chl-a</text>
<text transform="translate(1041.5 445) rotate(-90)" font-size="34.16" textLength="93.01" lengthAdjust="spacingAndGlyphs">(µg/L)</text>
<text transform="translate(1038.3 820.5) rotate(-90)" font-size="34.16" textLength="74.46" lengthAdjust="spacingAndGlyphs">Chl-a</text>
<text transform="translate(1038.3 731) rotate(-90)" font-size="34.16" textLength="93.01" lengthAdjust="spacingAndGlyphs">(µg/L)</text>
<text transform="translate(1041.5 1132.5) rotate(-90)" font-size="34.16" textLength="74.96" lengthAdjust="spacingAndGlyphs">Chl-a</text>
<text transform="translate(1041.5 1042.5) rotate(-90)" font-size="34.16" textLength="93.01" lengthAdjust="spacingAndGlyphs">(µg/L)</text>
</svg></body></html>
